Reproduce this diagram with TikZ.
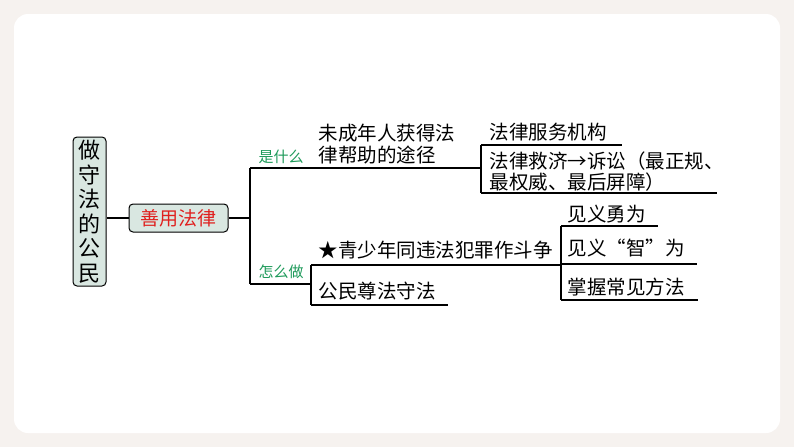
\documentclass[tikz,border=0pt]{standalone}
\usepackage{fontspec}
\setmainfont{Noto Sans CJK SC}
\definecolor{bg}{HTML}{F6F2EF}
\definecolor{boxfill}{HTML}{D9E7E1}
\definecolor{grn}{HTML}{1E9A5A}
\definecolor{rd}{HTML}{E0201E}
\begin{document}
\begin{tikzpicture}[x=1pt,y=-1pt,line width=1.3pt,
  txt/.style={anchor=west,inner sep=0pt,font=\fontsize{19.5}{22}\selectfont},
  lbl/.style={anchor=west,inner sep=0pt,font=\fontsize{15}{17}\selectfont,text=grn}]
\fill[bg] (0,0) rectangle (794,447);
\useasboundingbox (0,0) rectangle (794,447);
\fill[white,rounded corners=14pt] (14,14) rectangle (780,433);
\node[draw,fill=boxfill,rounded corners=4pt,minimum width=33pt,minimum height=149pt,inner sep=1pt,align=center,font=\fontsize{22}{24.5}\selectfont,line width=1pt] (root) at (89.5,211.5) {做\\守\\法\\的\\公\\民};
\node[draw,fill=boxfill,rounded corners=4pt,minimum width=99pt,minimum height=28pt,text=rd,font=\fontsize{19}{21}\selectfont,line width=1pt] (sy) at (178.5,218) {善用法律};
\draw (root.east |- sy) -- (sy.west);
\coordinate (j) at (250,218);
\draw (sy.east) -- (j);
\draw (250,168) -- (250,284);
\draw (250,168) -- (481,168);
\draw (250,284) -- (311,284);
\node[lbl] (s1) at (258,157) {是什么};
\node[lbl] (s2) at (258,272) {怎么做};
\node[txt] (a1) at (318,133) {未成年人获得法};
\node[txt] (a2) at (318,155) {律帮助的途径};
% top bracket
\draw (481,145) -- (481,193);
\draw (481,145) -- (622,145);
\draw (481,193) -- (717,193);
\node[txt] (b1) at (489,132) {法律服务机构};
\node[txt] (b2) at (489,161) {法律救济→诉讼（最正规、};
\node[txt] (b3) at (489,182) {最权威、最后屏障）};
% bottom
\draw (311,265) -- (311,305);
\draw (311,265) -- (561,265);
\draw (311,305) -- (448,305);
\node[txt] (c1) at (318,250) {★青少年同违法犯罪作斗争};
\node[txt] (c2) at (318,291) {公民尊法守法};
\draw (561,226) -- (561,300);
\draw (561,226) -- (658,226);
\draw (561,264) -- (697,264);
\draw (561,300) -- (698,300);
\node[txt] (d1) at (567,214) {见义勇为};
\node[txt] (d2) at (567,248) {见义“智”为};
\node[txt] (d3) at (567,287) {掌握常见方法};
\end{tikzpicture}
\end{document}
